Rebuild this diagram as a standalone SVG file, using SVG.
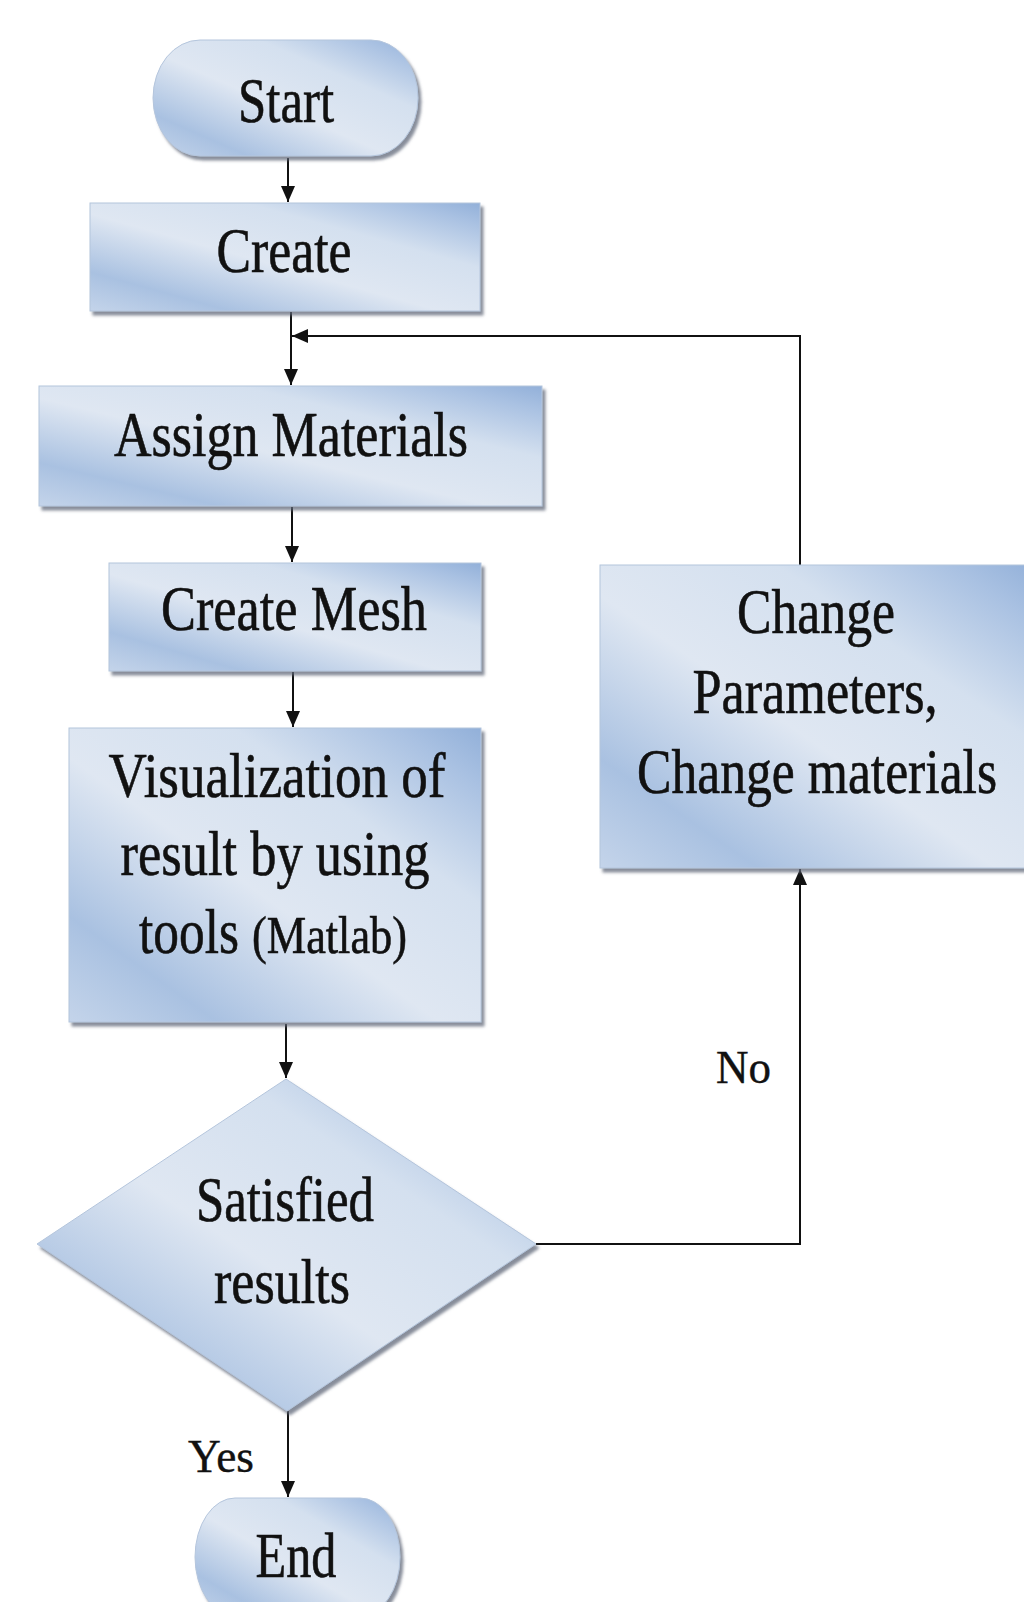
<svg xmlns="http://www.w3.org/2000/svg" width="1024" height="1602" viewBox="0 0 1024 1602">
  <style>
    .box { fill: url(#boxFill); stroke: #b4c5dc; stroke-width: 1; filter: url(#shadow); }
    .t { font-family: "Liberation Serif", "Times New Roman", serif; font-size: 52px; fill: #111; stroke: #111; stroke-width: 0.5; text-anchor: middle; }
    .ts { text-anchor: start; }
    .lbl { font-family: "Liberation Serif", "Times New Roman", serif; font-size: 47px; fill: #111; stroke: #111; stroke-width: 0.4; }
    .wire { fill: none; stroke: #111; stroke-width: 2; }
  </style>
  <defs>
    <linearGradient id="boxFill" x1="0" y1="1" x2="1" y2="0">
      <stop offset="0" stop-color="#c4d4ea"/>
      <stop offset="0.18" stop-color="#a9c1e1"/>
      <stop offset="0.45" stop-color="#dfe7f2"/>
      <stop offset="0.7" stop-color="#d4e0ef"/>
      <stop offset="0.9" stop-color="#a9c1e2"/>
      <stop offset="1" stop-color="#92b0d9"/>
    </linearGradient>
    <filter id="shadow" x="-5%" y="-5%" width="115%" height="115%">
      <feDropShadow dx="3" dy="4" stdDeviation="1.5" flood-color="#5f6878" flood-opacity="0.75"/>
    </filter>
    <marker id="arrow" markerUnits="userSpaceOnUse" markerWidth="17" markerHeight="15" refX="16" refY="7" orient="auto">
      <path d="M0,0 L16,7 L0,14 Z" fill="#111"/>
    </marker>
  </defs>

  <rect width="1024" height="1602" fill="#ffffff"/>

  <!-- connectors -->
  <g id="connectors">
    <path class="wire" d="M288,158 V202" marker-end="url(#arrow)"/>
    <path class="wire" d="M291,312 V385" marker-end="url(#arrow)"/>
    <path class="wire" d="M292,507 V562" marker-end="url(#arrow)"/>
    <path class="wire" d="M293,672 V727" marker-end="url(#arrow)"/>
    <path class="wire" d="M286,1024 V1078" marker-end="url(#arrow)"/>
    <path class="wire" d="M288,1411 V1497" marker-end="url(#arrow)"/>
    <path class="wire" d="M536,1244 H800 V869" marker-end="url(#arrow)"/>
    <path class="wire" d="M800,565 V336 H292" marker-end="url(#arrow)"/>
  </g>

  <!-- text is set in a tall, narrow cut: scale(1,1.21) on each line -->
  <g id="node-start">
    <rect class="box" x="153" y="40" width="265" height="116" rx="47" ry="58"/>
    <text class="t" transform="translate(286,122) scale(1,1.21)" textLength="96" lengthAdjust="spacingAndGlyphs">Start</text>
  </g>

  <g id="node-create">
    <rect class="box" x="90" y="203" width="390" height="108"/>
    <text class="t" transform="translate(284,272) scale(1,1.21)" textLength="135" lengthAdjust="spacingAndGlyphs">Create</text>
  </g>

  <g id="node-assign">
    <rect class="box" x="39" y="386" width="503" height="120"/>
    <text class="t" transform="translate(291,456) scale(1,1.21)" textLength="354" lengthAdjust="spacingAndGlyphs">Assign Materials</text>
  </g>

  <g id="node-mesh">
    <rect class="box" x="109" y="563" width="372" height="108"/>
    <text class="t" transform="translate(294,630) scale(1,1.21)" textLength="266" lengthAdjust="spacingAndGlyphs">Create Mesh</text>
  </g>

  <g id="node-visualize">
    <rect class="box" x="69" y="728" width="412" height="294"/>
    <text class="t" transform="translate(277,797) scale(1,1.21)" textLength="337" lengthAdjust="spacingAndGlyphs">Visualization of</text>
    <text class="t" transform="translate(275,875) scale(1,1.21)" textLength="309" lengthAdjust="spacingAndGlyphs">result by using</text>
    <text class="t ts" transform="translate(139,953) scale(1,1.21)" textLength="100" lengthAdjust="spacingAndGlyphs">tools</text>
    <text class="t ts" transform="translate(252,953) scale(1,1.21)" style="font-size:43px" textLength="155" lengthAdjust="spacingAndGlyphs">(Matlab)</text>
  </g>

  <g id="node-decision">
    <polygon class="box" points="286,1079 536,1244 287,1411 37,1244"/>
    <text class="t" transform="translate(285,1221) scale(1,1.21)" textLength="178" lengthAdjust="spacingAndGlyphs">Satisfied</text>
    <text class="t" transform="translate(282,1303) scale(1,1.21)" textLength="136" lengthAdjust="spacingAndGlyphs">results</text>
  </g>

  <g id="node-change">
    <rect class="box" x="600" y="565" width="440" height="303"/>
    <text class="t" transform="translate(816,633) scale(1,1.21)" textLength="158" lengthAdjust="spacingAndGlyphs">Change</text>
    <text class="t" transform="translate(815,713) scale(1,1.21)" textLength="245" lengthAdjust="spacingAndGlyphs">Parameters,</text>
    <text class="t" transform="translate(817,793) scale(1,1.21)" textLength="360" lengthAdjust="spacingAndGlyphs">Change materials</text>
  </g>

  <g id="node-end">
    <rect class="box" x="195" y="1498" width="205" height="118" rx="40" ry="59"/>
    <text class="t" transform="translate(296,1577) scale(1,1.21)" textLength="81" lengthAdjust="spacingAndGlyphs">End</text>
  </g>

  <g id="edge-labels">
    <text class="lbl" x="716" y="1083" textLength="55" lengthAdjust="spacingAndGlyphs">No</text>
    <text class="lbl" x="188" y="1472" textLength="66" lengthAdjust="spacingAndGlyphs">Yes</text>
  </g>
</svg>
